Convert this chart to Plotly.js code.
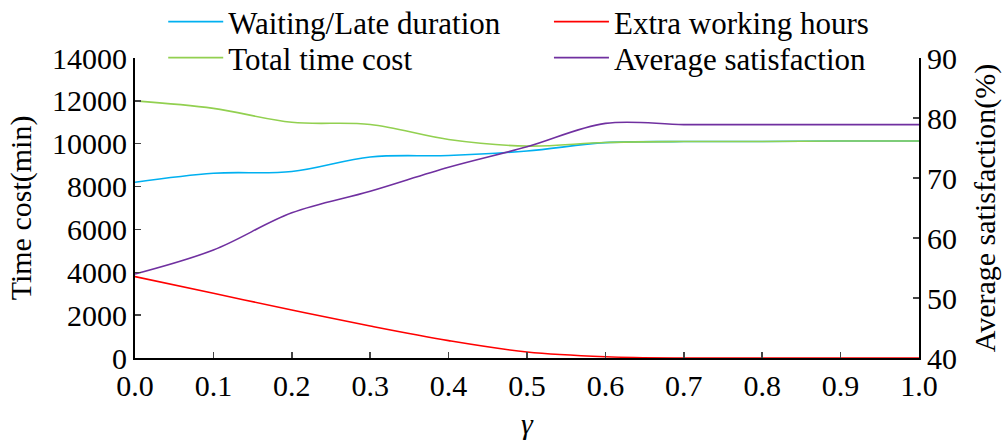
<!DOCTYPE html>
<html><head><meta charset="utf-8">
<script src="https://cdn.plot.ly/plotly-3.0.1.min.js"></script>
<style>html,body{margin:0;padding:0;background:#fff}#chart{width:1004px;height:441px}</style>
</head><body><div id="chart"></div>
<script>
const gamma = [0, 0.1, 0.2, 0.3, 0.4, 0.5, 0.6, 0.7, 0.8, 0.9, 1.0];
const waitingLate = [8200, 8620, 8700, 9380, 9450, 9660, 10050, 10100, 10100, 10130, 10130];
const extraWorking = [3800, 3020, 2240, 1490, 810, 280, 60, 0, 0, 0, 0];
const totalTime = [12000, 11650, 11000, 10900, 10200, 9890, 10060, 10100, 10100, 10130, 10130];
const avgSatisfaction = [54, 58, 64.2, 67.8, 71.8, 75.2, 79.1, 78.9, 78.9, 78.9, 78.9];
const xTicks = [0, 0.1, 0.2, 0.3, 0.4, 0.5, 0.6, 0.7, 0.8, 0.9, 1.0];

const font = "'Liberation Serif', 'Times New Roman', serif";
const FS = 30;
const mk = (name, y, color, axis, leg) => ({
  x: gamma, y: y, name: name, type: 'scatter', mode: 'lines',
  line: {color: color, width: 1.6, shape: 'spline', smoothing: 1},
  yaxis: axis, legend: leg
});
const traces = [
  mk('Waiting/Late duration', waitingLate, '#00b0f0', 'y', 'legend'),
  mk('Total time cost', totalTime, '#92d050', 'y', 'legend2'),
  mk('Extra working hours', extraWorking, '#ff0000', 'y', 'legend3'),
  mk('Average satisfaction', avgSatisfaction, '#7030a0', 'y2', 'legend4')
];
const legBase = {orientation: 'v', yanchor: 'middle', xanchor: 'left', bgcolor: 'rgba(0,0,0,0)',
  font: {family: font, size: 31, color: '#000'}, tracegroupgap: 0, itemwidth: 55};
const colL = 0.036, colR = 0.528, row1 = 1.12, row2 = 1.0;
const layout = {
  width: 1004, height: 441,
  margin: {l: 135, r: 85, t: 58, b: 83, autoexpand: false},
  paper_bgcolor: '#fff', plot_bgcolor: '#fff',
  font: {family: font, size: FS, color: '#000'},
  showlegend: true,
  legend: Object.assign({}, legBase, {x: colL, y: row1}),
  legend2: Object.assign({}, legBase, {x: colL, y: row2}),
  legend3: Object.assign({}, legBase, {x: colR, y: row1}),
  legend4: Object.assign({}, legBase, {x: colR, y: row2}),
  xaxis: {range: [0, 1], tickvals: xTicks, tickformat: '.1f', ticks: 'inside', ticklen: 6,
    tickwidth: 1.5, showline: true, linecolor: '#000', linewidth: 2, showgrid: false, zeroline: false,
    tickfont: {family: font, size: FS},
    title: {text: '<i>γ</i>', standoff: 12, font: {family: font, size: FS}}},
  yaxis: {range: [0, 14000], dtick: 2000, tickformat: 'd', ticks: 'inside', ticklen: 6, tickwidth: 1.5,
    showline: true, linecolor: '#000', linewidth: 2, showgrid: false, zeroline: false,
    tickfont: {family: font, size: FS},
    title: {text: 'Time cost(min)', standoff: 12, font: {family: font, size: FS}}},
  yaxis2: {range: [40, 90], dtick: 10, overlaying: 'y', side: 'right', ticks: 'inside', ticklen: 6,
    tickwidth: 1.5, showline: true, linecolor: '#000', linewidth: 2, showgrid: false, zeroline: false,
    tickfont: {family: font, size: FS},
    title: {text: 'Average satisfaction(%)', standoff: 18, font: {family: font, size: FS}}}
};
Plotly.newPlot('chart', traces, layout, {displayModeBar: false, staticPlot: true});
</script></body></html>
